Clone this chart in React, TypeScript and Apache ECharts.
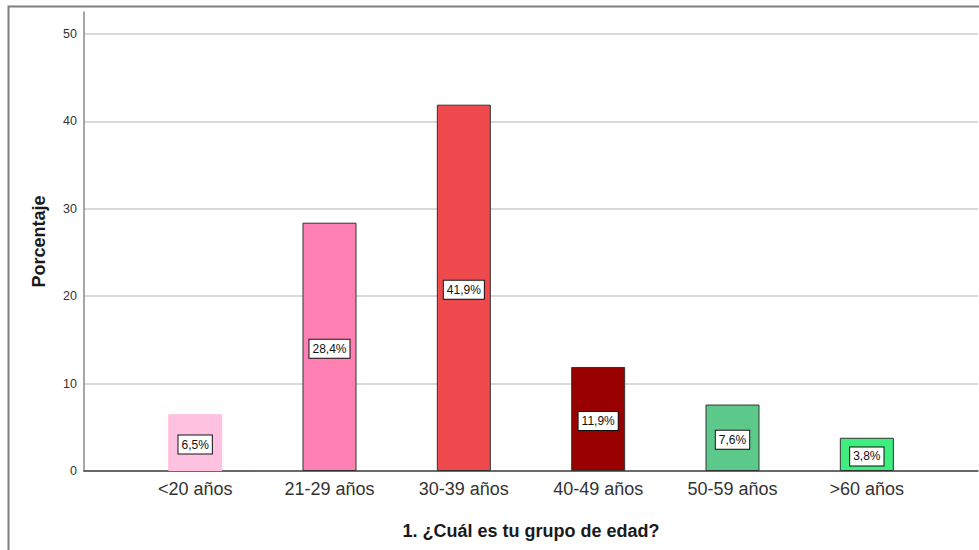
import React, { useEffect, useRef } from "react";
import * as echarts from "echarts";

// Age groups and the percentage of respondents in each
const categories = ["<20 años", "21-29 años", "30-39 años", "40-49 años", "50-59 años", ">60 años"];
const percentages = [6.5, 28.4, 41.9, 11.9, 7.6, 3.8];
const barColors = ["#FFC1E0", "#FF80B2", "#EE4A4D", "#990000", "#5CC98A", "#3EEE7E"];
const barBorders = ["#FFC1E0", "#333333", "#333333", "#333333", "#333333", "#333333"];

const yMin = 0;
const yMax = 52.5;
const yInterval = 10;

const xTitle = "1. ¿Cuál es tu grupo de edad?";
const yTitle = "Porcentaje";

const FONT = "'Liberation Sans', Arial, sans-serif";

const formatPct = (v: number) => v.toFixed(1).replace(".", ",") + "%";

export default function App() {
  const ref = useRef<HTMLDivElement>(null);

  useEffect(() => {
    if (!ref.current) return;
    const chart = echarts.init(ref.current, undefined, { renderer: "svg" });

    chart.setOption({
      animation: false,
      backgroundColor: "#ffffff",
      textStyle: { fontFamily: FONT },
      graphic: [
        {
          type: "rect",
          z: -10,
          silent: true,
          shape: { x: 8.5, y: 6.5, width: 1000, height: 600 },
          style: { fill: "none", stroke: "#7f7f7f", lineWidth: 2 },
        },
      ],
      grid: [
        // frame grid: axis lines and gridlines span the full width
        { left: 84, right: 1, top: 12, bottom: 79 },
        // bar grid: categories sit inset from both ends
        { left: 128, right: 45, top: 12, bottom: 79 },
      ],
      xAxis: [
        {
          gridIndex: 0,
          type: "value",
          min: 0,
          max: 1,
          axisLine: { show: true, lineStyle: { color: "#444444", width: 1.5 } },
          axisTick: { show: false },
          axisLabel: { show: false },
          splitLine: { show: false },
        },
        {
          gridIndex: 1,
          type: "category",
          data: categories,
          axisLine: { show: false },
          axisTick: { show: false },
          axisLabel: { fontSize: 18, color: "#333333", margin: 9, fontFamily: FONT },
          name: xTitle,
          nameLocation: "middle",
          nameGap: 51,
          nameTextStyle: { fontSize: 18, fontWeight: "bold", color: "#1a1a1a", fontFamily: FONT },
        },
      ],
      yAxis: [
        {
          gridIndex: 0,
          type: "value",
          min: yMin,
          max: yMax,
          interval: yInterval,
          axisLine: { show: true, lineStyle: { color: "#888888", width: 1.5 } },
          axisTick: { show: false },
          axisLabel: {
            fontSize: 12.5,
            color: "#333333",
            margin: 7,
            showMaxLabel: false,
            fontFamily: FONT,
            formatter: (v: number) => (v % yInterval === 0 ? String(v) : ""),
          },
          splitLine: {
            show: true,
            showMaxLine: false,
            lineStyle: { color: "#d9d9d9", width: 2 },
          },
          name: yTitle,
          nameLocation: "middle",
          nameGap: 36,
          nameTextStyle: { fontSize: 18, fontWeight: "bold", color: "#1a1a1a", fontFamily: FONT },
        },
        {
          gridIndex: 1,
          type: "value",
          min: yMin,
          max: yMax,
          show: false,
          splitLine: { show: false },
        },
      ],
      series: [
        {
          type: "bar",
          xAxisIndex: 1,
          yAxisIndex: 1,
          barWidth: 54,
          data: percentages.map((v, i) => ({
            value: v,
            itemStyle: { color: barColors[i], borderColor: barBorders[i], borderWidth: 1 },
          })),
          label: {
            show: true,
            position: "inside",
            offset: [0, 2],
            formatter: (p: any) => formatPct(p.value),
            backgroundColor: "#ffffff",
            borderColor: "#111111",
            borderWidth: 1,
            padding: [3, 3, 3, 3],
            color: "#111111",
            fontSize: 12,
            fontFamily: FONT,
          },
        },
      ],
    });

    return () => chart.dispose();
  }, []);

  return (
    <div
      ref={ref}
      style={{ position: "fixed", left: 0, top: 0, width: 979, height: 550 }}
    />
  );
}
